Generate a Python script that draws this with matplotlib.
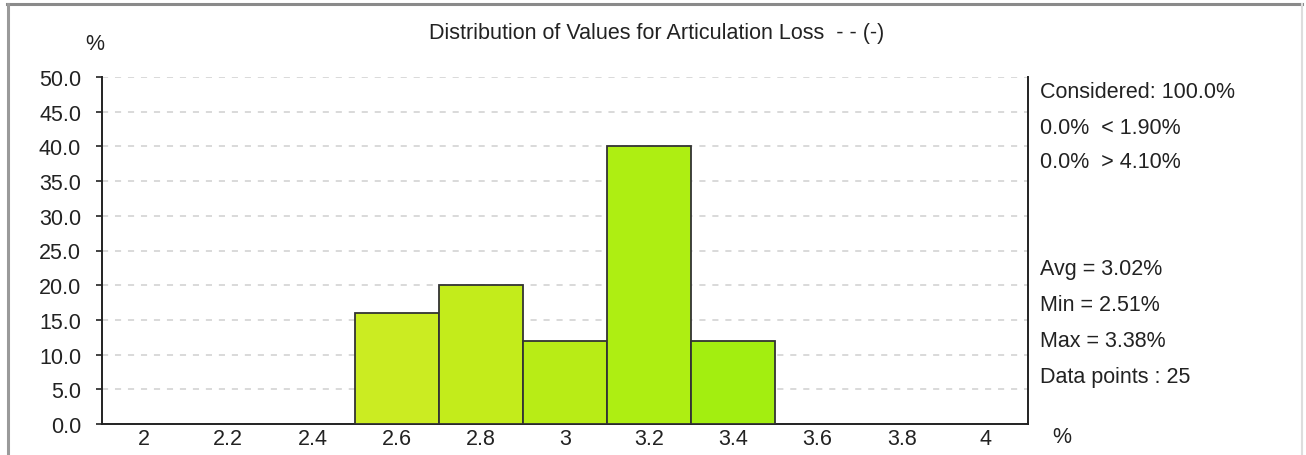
import matplotlib
matplotlib.use('Agg')
import matplotlib.pyplot as plt
from matplotlib.lines import Line2D

plt.rcParams['font.family'] = ['Liberation Sans', 'DejaVu Sans']

# histogram data (bin centres in %, share of points in %)
bin_centres = [2.6, 2.8, 3.0, 3.2, 3.4]
shares = [16.0, 20.0, 12.0, 40.0, 12.0]
bin_width = 0.2
bar_colors = ['#cbec22', '#c3ec1b', '#b8ec16', '#aeee12', '#a3ee10']

x_ticks = [2, 2.2, 2.4, 2.6, 2.8, 3, 3.2, 3.4, 3.6, 3.8, 4]
x_ticklabels = ['2', '2.2', '2.4', '2.6', '2.8', '3', '3.2', '3.4', '3.6', '3.8', '4']
y_ticks = [0, 5, 10, 15, 20, 25, 30, 35, 40, 45, 50]

title = 'Distribution of Values for Articulation Loss  - - (-)'
stats_top = ['Considered: 100.0%', '0.0%  < 1.90%', '0.0%  > 4.10%']
stats_bottom = ['Avg = 3.02%', 'Min = 2.51%', 'Max = 3.38%', 'Data points : 25']

W, H = 1306, 456
fig = plt.figure(figsize=(W / 100, H / 100), dpi=100)
fig.patch.set_facecolor('white')

# axes box in pixel coords
left, right, top, bottom = 102, 1028, 78, 425
ax = fig.add_axes([left / W, 1 - bottom / H, (right - left) / W, (bottom - top) / H])

ax.bar(bin_centres, shares, width=bin_width, color=bar_colors,
       edgecolor='#333333', linewidth=1.3, zorder=3)

ax.set_xlim(1.9, 4.1)
ax.set_ylim(0, 50)
ax.set_xticks(x_ticks)
ax.set_xticklabels(x_ticklabels)
ax.set_yticks(y_ticks)
ax.set_yticklabels(['%.1f' % v for v in y_ticks])

ax.yaxis.grid(True, color='#cfcfcf', linestyle=(0, (4, 4.5)), linewidth=1.1, zorder=0)
ax.set_axisbelow(True)

for s in ['left', 'bottom', 'right']:
    ax.spines[s].set_color('#222222')
    ax.spines[s].set_linewidth(1.4)
ax.spines['top'].set_visible(False)

fs = 15.5
ax.tick_params(axis='y', length=4, width=1.2, color='#222222', pad=11,
               labelsize=fs, labelcolor='#222222')
ax.tick_params(axis='x', length=0, pad=3, labelsize=fs, labelcolor='#222222')

txt = dict(color='#222222', fontsize=fs)
fig.text(657 / W, 1 - 33 / H, title, ha='center', va='center', **txt)
fig.text(95 / W, 1 - 45 / H, '%', ha='center', va='center', **txt)
fig.text(1062 / W, 1 - 438 / H, '%', ha='center', va='center', **txt)

for i, s in enumerate(stats_top):
    fig.text(1040 / W, 1 - (93 + 35 * i) / H, s, ha='left', va='center', **txt)
for i, s in enumerate(stats_bottom):
    fig.text(1040 / W, 1 - (270 + 36 * i) / H, s, ha='left', va='center', **txt)

# window frame lines
fig.add_artist(Line2D([7 / W, 1302 / W], [1 - 5 / H, 1 - 5 / H], color='#8a8a8a', linewidth=2.2))
fig.add_artist(Line2D([8 / W, 8 / W], [0, 1 - 5 / H], color='#9a9a9a', linewidth=2.2))
fig.add_artist(Line2D([1302 / W, 1302 / W], [0, 1 - 5 / H], color='#dddddd', linewidth=1.5))

fig.savefig('out.png', dpi=100, facecolor='white')
